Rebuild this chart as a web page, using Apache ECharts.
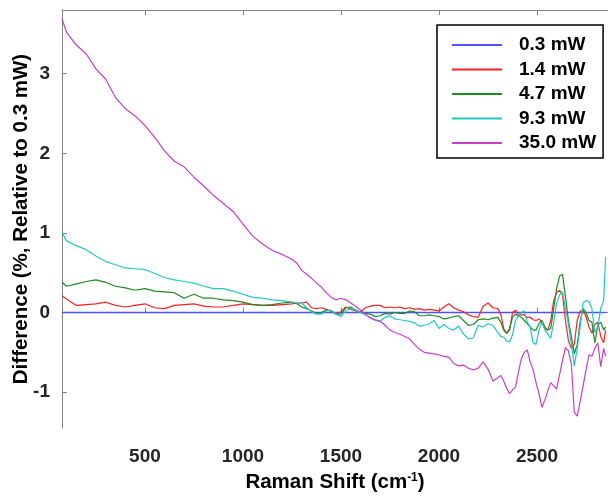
<!DOCTYPE html>
<html>
<head>
<meta charset="utf-8">
<script src="https://cdn.jsdelivr.net/npm/echarts@6/dist/echarts.min.js"></script>
<style>
html,body{margin:0;padding:0;background:#fff;}
#chart{width:608px;height:498px;}
</style>
</head>
<body>
<div id="chart"></div>
<script>
// Raman shift grid (cm-1)
const ramanShift = [77,100,150,200,250,300,350,400,450,500,550,600,650,700,750,800,850,900,950,1000,1050,1100,1150,1200,1250,
1275,1300,1325,1350,1375,1400,1425,1450,1475,1500,1525,1550,1575,1600,1625,1650,1675,1700,1725,1750,1775,1800,1825,1850,1875,1900,1925,1950,1975,2000,2025,2050,2075,2100,2125,2150,2175,2200,2225,2250,2275,
2300,2315,2330,2345,2360,2375,2390,2405,2420,2435,2450,2465,2480,2495,2510,2525,2540,2555,2570,2585,2600,2615,2630,2645,2660,2675,2690,2705,2720,2735,2750,2765,2780,2795,2810,2825,2840,2850];

// 0.3 mW reference (zero line)
const shift03 = [77, 2850];
const diff03 = [0, 0];

const diff14 = [0.21,0.17,0.09,0.10,0.11,0.13,0.09,0.07,0.09,0.11,0.06,0.05,0.09,0.10,0.11,0.08,0.07,0.07,0.09,0.11,0.10,0.09,0.09,0.10,0.11,
0.12,0.12,0.13,0.06,0.05,0.06,0.04,0.02,-0.02,0.01,0.07,0.04,0.02,0.01,0.06,0.08,0.09,0.09,0.06,0.07,0.06,0.07,0.05,0.06,0.04,0.05,0.03,0.04,0.03,0.02,0.07,0.11,0.06,0.03,0.01,-0.03,-0.05,-0.06,0.08,0.12,0.06,
0.05,-0.02,-0.20,-0.26,-0.22,0.00,0.03,-0.02,-0.03,-0.03,-0.06,-0.06,-0.09,-0.10,-0.08,-0.12,-0.20,-0.22,-0.10,0.15,0.25,0.28,0.22,-0.10,-0.35,-0.45,-0.40,-0.10,0.02,0.02,-0.05,-0.18,-0.26,-0.15,-0.12,-0.30,-0.38,-0.22];

const diff47 = [0.38,0.33,0.36,0.39,0.41,0.38,0.33,0.31,0.28,0.30,0.27,0.26,0.25,0.18,0.23,0.18,0.18,0.16,0.15,0.13,0.10,0.09,0.10,0.12,0.13,
0.11,0.07,0.05,0.02,-0.01,0.00,0.03,0.02,-0.02,-0.02,0.06,0.07,0.03,0.00,-0.01,-0.02,-0.05,-0.04,-0.01,-0.02,0.00,-0.01,-0.01,0.02,0.01,-0.04,-0.04,-0.03,-0.04,-0.05,-0.08,-0.07,-0.05,-0.04,-0.10,-0.16,-0.15,-0.09,-0.08,-0.09,-0.07,
-0.06,-0.12,-0.22,-0.26,-0.20,-0.06,-0.02,-0.04,-0.06,-0.10,-0.14,-0.18,-0.22,-0.22,-0.14,-0.10,-0.18,-0.22,-0.20,0.05,0.30,0.46,0.48,0.20,-0.10,-0.30,-0.52,-0.40,-0.12,0.05,0.00,-0.10,-0.12,-0.38,-0.16,-0.12,-0.22,-0.18];

const diff93 = [1.01,0.90,0.84,0.79,0.71,0.64,0.60,0.56,0.55,0.54,0.49,0.44,0.41,0.39,0.37,0.33,0.30,0.30,0.27,0.23,0.19,0.18,0.16,0.15,0.13,
0.12,0.12,0.06,0.01,-0.02,-0.02,0.02,0.03,-0.02,-0.05,0.02,0.05,0.03,0.00,-0.03,-0.06,-0.10,-0.11,-0.06,-0.04,-0.08,-0.09,-0.10,-0.11,-0.13,-0.17,-0.16,-0.14,-0.10,-0.20,-0.15,-0.20,-0.22,-0.17,-0.27,-0.33,-0.32,-0.16,-0.18,-0.14,-0.16,
-0.25,-0.30,-0.31,-0.36,-0.37,-0.28,-0.10,-0.05,0.00,0.02,-0.12,-0.18,-0.38,-0.40,-0.22,-0.12,-0.22,-0.27,-0.32,-0.12,0.12,0.22,0.26,0.05,-0.15,-0.40,-0.67,-0.45,-0.18,0.12,0.15,0.14,0.05,-0.25,-0.18,0.05,0.15,0.70];

const diff350 = [3.69,3.52,3.36,3.25,3.06,2.93,2.70,2.56,2.47,2.35,2.20,2.03,1.90,1.83,1.70,1.59,1.47,1.37,1.27,1.11,0.96,0.86,0.78,0.73,0.67,
0.62,0.53,0.48,0.43,0.37,0.32,0.25,0.19,0.16,0.18,0.16,0.12,0.08,0.03,-0.02,-0.07,-0.09,-0.11,-0.16,-0.22,-0.25,-0.27,-0.30,-0.33,-0.40,-0.46,-0.50,-0.51,-0.52,-0.53,-0.55,-0.56,-0.64,-0.67,-0.66,-0.70,-0.72,-0.70,-0.62,-0.71,-0.86,
-0.82,-0.79,-0.86,-0.95,-1.02,-0.97,-0.94,-0.75,-0.58,-0.50,-0.47,-0.62,-0.72,-0.88,-1.02,-1.19,-1.10,-0.98,-0.88,-0.92,-0.96,-0.78,-0.60,-0.44,-0.48,-0.65,-1.25,-1.30,-1.12,-0.92,-0.72,-0.53,-0.55,-0.45,-0.38,-0.68,-0.45,-0.55];

const seriesNames = ['0.3 mW','1.4 mW','4.7 mW','9.3 mW','35.0 mW'];
const seriesColors = ['#5050ff','#ff2020','#1e8c1e','#20c8c8','#c83cd0'];
const seriesWidths = [1.5, 1.2, 1.2, 1.2, 1.2];
const xTicks = [500,1000,1500,2000,2500];
const yTicks = [-1,0,1,2,3];

const FONT = '"Liberation Sans", Arial, sans-serif';
const pair = (xs, ys) => xs.map((x, i) => [x, ys[i]]);
const allData = [pair(shift03, diff03), pair(ramanShift, diff14), pair(ramanShift, diff47), pair(ramanShift, diff93), pair(ramanShift, diff350)];

const axisColor = '#858585';
const chart = echarts.init(document.getElementById('chart'), null, {renderer: 'canvas'});
chart.setOption({
  animation: false,
  backgroundColor: '#fff',
  grid: {left: 62, top: 10, width: 548, height: 427, containLabel: false},
  legend: {
    orient: 'vertical', left: 437, top: 25,
    data: seriesNames,
    icon: 'rect', itemWidth: 50, itemHeight: 2, itemGap: 4.5,
    padding: [10, 7, 5, 15],
    borderColor: '#000', borderWidth: 1.5, backgroundColor: '#fff',
    textStyle: {fontFamily: FONT, fontSize: 19, fontWeight: 'bold', color: '#000', lineHeight: 20, padding: [0, 0, 0, 12]}
  },
  xAxis: [{
    type: 'value', min: 77, max: 2862, position: 'bottom',
    splitLine: {show: false},
    axisLine: {show: true, lineStyle: {color: axisColor, width: 1}},
    axisTick: {show: true, inside: true, length: 5, customValues: xTicks, lineStyle: {color: axisColor}},
    axisLabel: {customValues: xTicks, margin: 19, formatter: v => String(v), fontFamily: FONT, fontSize: 19, fontWeight: 'bold', color: '#262626'},
    name: 'Raman Shift (cm{sup|-1})', nameLocation: 'middle', nameGap: 44, nameMoveOverlap: false,
    nameTextStyle: {fontFamily: FONT, fontSize: 20.5, fontWeight: 'bold', color: '#000',
      rich: {sup: {fontFamily: FONT, fontSize: 12, fontWeight: 'bold', color: '#000', verticalAlign: 'top', padding: [0, 0, 9, 0]}}}
  }, {
    type: 'value', min: 77, max: 2862, position: 'top',
    splitLine: {show: false},
    axisLine: {show: true, onZero: false, lineStyle: {color: axisColor, width: 1}},
    axisTick: {show: true, inside: true, length: 5, customValues: xTicks, lineStyle: {color: axisColor}},
    axisLabel: {show: false}
  }],
  yAxis: [{
    type: 'value', min: -1.45, max: 3.8,
    splitLine: {show: false},
    axisLine: {show: true, onZero: false, lineStyle: {color: axisColor, width: 1}},
    axisTick: {show: true, inside: true, length: 5, customValues: yTicks, lineStyle: {color: axisColor}},
    axisLabel: {customValues: yTicks, margin: 12, fontFamily: FONT, fontSize: 19, fontWeight: 'bold', color: '#262626'},
    name: 'Difference (%, Relative to 0.3 mW)', nameLocation: 'middle', nameGap: 30, nameMoveOverlap: false,
    nameTextStyle: {fontFamily: FONT, fontSize: 20.5, fontWeight: 'bold', color: '#000'}
  }],
  series: seriesNames.map((n, i) => ({
    name: n, type: 'line', data: allData[i], xAxisIndex: 0, yAxisIndex: 0,
    showSymbol: false, symbol: 'none', smooth: false,
    lineStyle: {color: seriesColors[i], width: seriesWidths[i]},
    itemStyle: {color: seriesColors[i]},
    clip: true, z: 2 + i
  }))
});
</script>
</body>
</html>
